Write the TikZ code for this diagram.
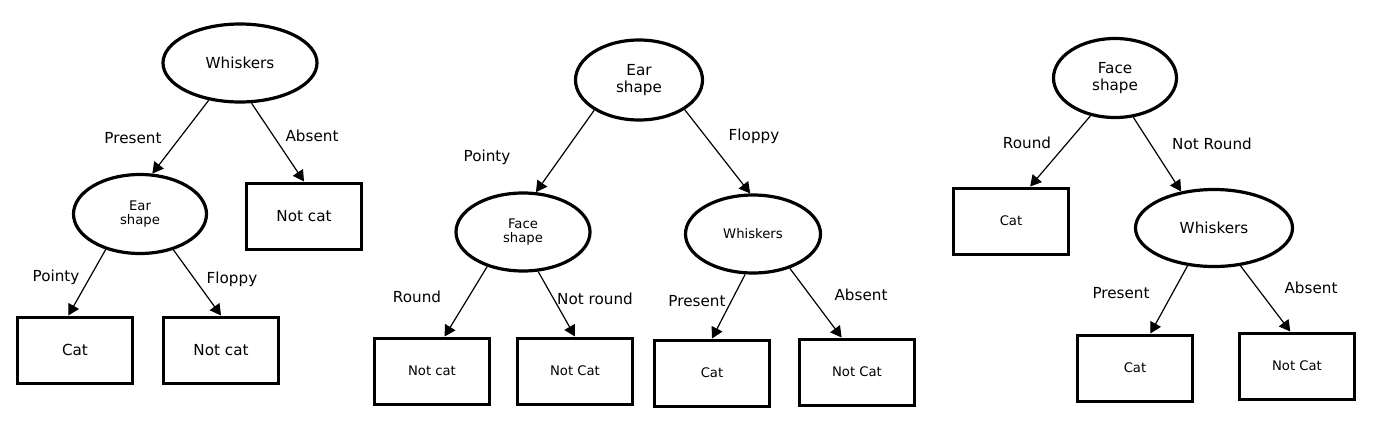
\documentclass[tikz,border=0pt]{standalone}
\usepackage{fontspec}
\setmainfont{DejaVu Sans}
\usetikzlibrary{shapes.geometric,arrows.meta}

\begin{document}
\begin{tikzpicture}[x=0.5pt,y=-0.5pt,line width=0.6pt,
  bigtxt/.style={font=\fontsize{7.6}{8.2}\selectfont},
  smalltxt/.style={font=\fontsize{6.6}{7.2}\selectfont},
  test/.style={draw,ellipse,line width=1.6pt,inner sep=0pt,align=center},
  leaf/.style={draw,rectangle,line width=1.5pt,minimum width=57.5pt,minimum height=33pt,inner sep=0pt},
  branch/.style={-{Triangle[length=5.5pt,width=6pt]},line width=0.6pt},
  lbl/.style={bigtxt,inner sep=0pt}]

  % --- page: white, same size as the screenshot (px units) ---
  \fill[white] (0,0) rectangle (1375,423);
  \useasboundingbox (0,0) rectangle (1375,423);

  % --- tree 1: whiskers first ---
  \node[test,bigtxt,minimum width=77pt,minimum height=39pt] (w1) at (240,63) {Whiskers};
  \node[test,smalltxt,minimum width=66.5pt,minimum height=39.5pt] (e1) at (140,214) {Ear\\shape};
  \node[leaf,bigtxt] (n1) at (304,216) {Not cat};
  \node[leaf,bigtxt] (c1) at (75,350) {Cat};
  \node[leaf,bigtxt] (n1b) at (221,350) {Not cat};

  \draw[branch] (w1.-130) -- (e1.73);
  \draw[branch] (w1.-74) -- (n1.north);
  \draw[branch] (e1.-134) -- (c1.101);
  \draw[branch] (e1.-47) -- (n1b.north);

  % --- tree 2: ear shape first ---
  \node[test,bigtxt,minimum width=63.5pt,minimum height=40pt] (e2) at (639,80) {Ear\\shape};
  \node[test,smalltxt,minimum width=67pt,minimum height=39pt] (f2) at (523,232) {Face\\shape};
  \node[test,smalltxt,minimum width=67.5pt,minimum height=39pt] (h2) at (753,234) {Whiskers};
  \node[leaf,smalltxt] (n2a) at (432,371) {Not cat};
  \node[leaf,smalltxt] (n2b) at (575,371) {Not Cat};
  \node[leaf,smalltxt] (c2) at (712,373) {Cat};
  \node[leaf,smalltxt] (n2c) at (857,372) {Not Cat};

  \draw[branch] (e2.-146) -- (f2.72);
  \draw[branch] (e2.-33) -- (h2.94);
  \draw[branch] (f2.-136) -- (n2a.70);
  \draw[branch] (f2.-69) -- (n2b.north);
  \draw[branch] (h2.-101) -- (c2.north);
  \draw[branch] (h2.-43) -- (n2c.114);

  % --- tree 3: face shape first ---
  \node[test,bigtxt,minimum width=61.5pt,minimum height=39.5pt] (f3) at (1115,78) {Face\\shape};
  \node[leaf,smalltxt] (c3) at (1011,221) {Cat};
  \node[test,bigtxt,minimum width=78.5pt,minimum height=38.5pt] (h3) at (1214,228) {Whiskers};
  \node[leaf,smalltxt] (c3b) at (1135,368) {Cat};
  \node[leaf,smalltxt] (n3) at (1297,366) {Not Cat};

  \draw[branch] (f3.-123) -- (c3.61);
  \draw[branch] (f3.-65) -- (h3.132);
  \draw[branch] (h3.-125) -- (c3b.66);
  \draw[branch] (h3.-55) -- (n3.101);

  % --- branch labels (name/x/y/text) ---
  \foreach \nm/\x/\y/\txt in {%
    lpres1/133/138/Present, labs1/312/136/Absent,
    lpnt1/56/277/Pointy, lflp1/232/279/Floppy,
    lpnt2/487/157/Pointy, lflp2/754/136/Floppy,
    lrnd2/417/297/Round, lnrnd2/595/299/Not round,
    lpres2/697/301/Present, labs2/861/295/Absent,
    lrnd3/1027/143/Round, lnrnd3/1212/144/Not Round,
    lpres3/1121/293/Present, labs3/1311/288/Absent%
  } {
    \node[lbl] (\nm) at (\x,\y) {\txt};
  }

\end{tikzpicture}
\end{document}
